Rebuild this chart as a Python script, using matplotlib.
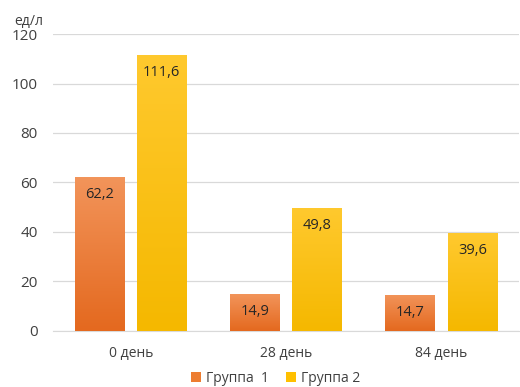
import numpy as np
import matplotlib
matplotlib.use('Agg')
import matplotlib.pyplot as plt
from matplotlib.colors import LinearSegmentedColormap

plt.rcParams['font.family'] = ['Open Sans', 'DejaVu Sans']

# data
days = ['0 день', '28 день', '84 день']
group1 = [62.2, 14.9, 14.7]
group2 = [111.6, 49.8, 39.6]
series_names = ['Группа  1', 'Группа 2']
yticks = [0, 20, 40, 60, 80, 100, 120]

fig = plt.figure(figsize=(5.2, 3.87), dpi=100)
ax = fig.add_axes([0.102, 0.145, 0.896, 0.767])

x = np.arange(len(days))
w = 0.32
off = 0.2

orange_cm = LinearSegmentedColormap.from_list('o', ['#E4691F', '#F2945A'])
yellow_cm = LinearSegmentedColormap.from_list('y', ['#F5B800', '#FFC92E'])

def grad_bars(xs, vals, cmap, base):
    bars = ax.bar(xs, vals, w, color=base, edgecolor='none', zorder=2)
    for b in bars:
        x0, y0 = b.get_x(), b.get_y()
        x1, y1 = x0 + b.get_width(), y0 + b.get_height()
        grad = np.linspace(0, 1, 100).reshape(-1, 1)
        im = ax.imshow(grad, cmap=cmap, origin='lower', aspect='auto',
                       extent=[x0, x1, y0, y1], zorder=3)
        im.set_clip_path(b)
    return bars

b1 = grad_bars(x - off, group1, orange_cm, '#ED7D31')
b2 = grad_bars(x + off, group2, yellow_cm, '#FFC000')

for bars, vals in ((b1, group1), (b2, group2)):
    for b, v in zip(bars, vals):
        ax.text(b.get_x() + b.get_width() / 2, v - 4.2, f'{v:.1f}'.replace('.', ','),
                ha='center', va='top', fontsize=10.5, color='#262626', zorder=4)

ax.set_xlim(-0.5, len(days) - 0.5)
ax.set_ylim(0, 120)
ax.set_yticks(yticks)
ax.set_xticks(x)
ax.set_xticklabels(days)
ax.tick_params(axis='both', length=0, labelsize=10, colors='#404040')
ax.tick_params(axis='y', labelsize=11, pad=11)
ax.tick_params(axis='x', pad=11)
ax.grid(axis='y', color='#D9D9D9', linewidth=0.9, zorder=0)
ax.set_axisbelow(True)
for s in ['top', 'right', 'left']:
    ax.spines[s].set_visible(False)
ax.spines['bottom'].set_color('#D9D9D9')

fig.text(0.027, 0.945, 'ед/л', fontsize=10, color='#404040', ha='left', va='center')

leg = fig.legend([b1, b2], series_names, loc='center', bbox_to_anchor=(0.53, 0.022),
                 ncol=2, frameon=False, fontsize=10, handlelength=0.7, handleheight=0.7,
                 handletextpad=0.4, columnspacing=1.2)
for t in leg.get_texts():
    t.set_color('#404040')

fig.savefig('out.png', dpi=100)
